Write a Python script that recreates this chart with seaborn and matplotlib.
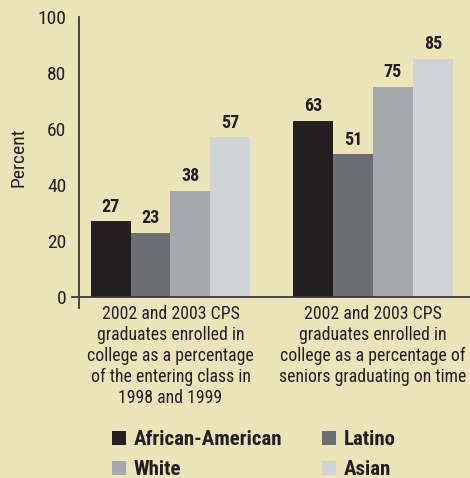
import matplotlib
matplotlib.use("Agg")
import matplotlib.pyplot as plt
import seaborn as sns
import pandas as pd
from matplotlib import font_manager
from matplotlib.patches import Patch

groups = [
    "2002 and 2003 CPS\ngraduates enrolled in\ncollege as a percentage\nof the entering class in\n1998 and 1999",
    "2002 and 2003 CPS\ngraduates enrolled in\ncollege as a percentage of\nseniors graduating on time",
]
races = ["African-American", "Latino", "White", "Asian"]
group1_values = [27, 23, 38, 57]
group2_values = [63, 51, 75, 85]
colors = ["#231F20", "#6D6E71", "#A7A9AC", "#D1D3D4"]
yticks = [0, 20, 40, 60, 80, 100]

rows = []
for g, vals in zip(groups, [group1_values, group2_values]):
    for r, v in zip(races, vals):
        rows.append({"group": g, "race": r, "value": v})
df = pd.DataFrame(rows)

sns.set_theme(style="white")
names = {f.name for f in font_manager.fontManager.ttflist}
fam = "Liberation Sans"
for cand in ["Liberation Sans Narrow", "Roboto Condensed", "Archivo Narrow", "Asap Condensed"]:
    if cand in names:
        fam = cand
        break
plt.rcParams["font.family"] = [fam, "DejaVu Sans"]

bg = "#ECE4BA"
txt = "#231F20"
fig = plt.figure(figsize=(4.70, 4.78), dpi=100, facecolor=bg)
ax = fig.add_axes([72/470, 1 - 308/478, 398/470, 291/478])
ax.set_facecolor(bg)

sns.barplot(data=df, x="group", y="value", hue="race", hue_order=races,
            palette=colors, width=0.79, linewidth=0, saturation=1,
            errorbar=None, ax=ax, legend=False)

for s in ["top", "right"]:
    ax.spines[s].set_visible(False)
ax.spines["left"].set_position(("data", -0.452))
ax.spines["bottom"].set_position(("data", 0))
for s in ["left", "bottom"]:
    ax.spines[s].set_color("#3a3a3a")
    ax.spines[s].set_linewidth(1.3)

for c in ax.containers:
    ax.bar_label(c, padding=4, fontsize=13, fontweight="bold", color=txt)

ax.set_ylim(-3.93, 100)
ax.set_xlim(-0.4864, 1.479)
ax.set_yticks(yticks)
ax.set_yticklabels([str(t) for t in yticks], fontsize=14, color=txt)
ax.set_xticks([0, 1])
ax.set_xticklabels(groups, fontsize=12.8, color=txt, linespacing=1.2)
ax.tick_params(axis="x", length=0, pad=6)
ax.tick_params(axis="y", direction="out", length=6, width=1.2, color="#3a3a3a", pad=3)

ax.set_xlabel("")
ax.set_ylabel("Percent", fontsize=14, color=txt)
ax.yaxis.set_label_coords(-0.113, 0.519)

order = [0, 2, 1, 3]
handles = [Patch(facecolor=colors[i], edgecolor="none") for i in order]
labels = [races[i] for i in order]
leg = fig.legend(handles, labels, ncol=2, loc="upper left",
                 bbox_to_anchor=(112/470, 1 - 430/478), frameon=False,
                 prop={"weight": "bold", "size": 15, "family": [fam, "DejaVu Sans"]},
                 handlelength=0.65, handleheight=0.65, handletextpad=0.4,
                 columnspacing=1.9, labelspacing=0.55, borderpad=0, borderaxespad=0)
for t in leg.get_texts():
    t.set_color(txt)

fig.savefig("out.png", dpi=100, facecolor=bg)
